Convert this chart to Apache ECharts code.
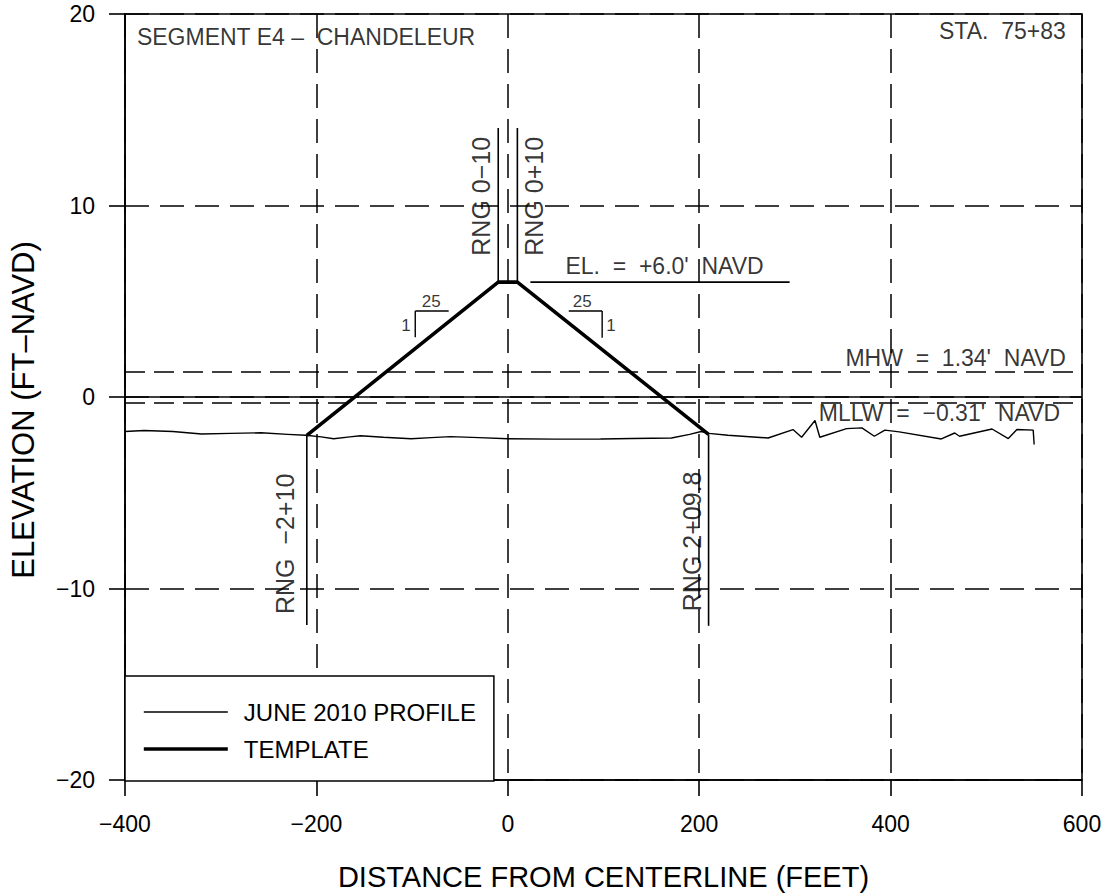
<!DOCTYPE html>
<html>
<head>
<meta charset="utf-8">
<script src="https://cdn.jsdelivr.net/npm/echarts@6/dist/echarts.min.js"></script>
<style>
html,body{margin:0;padding:0;background:#fff;}
#chart{width:1105px;height:896px;}
</style>
</head>
<body>
<div id="chart"></div>
<script>
// ---- data ----
const profileName = 'JUNE 2010 PROFILE';
const templateName = 'TEMPLATE';
const profileX = [-400,-380,-350,-320,-290,-258,-230,-211,-195,-182,-165,-154,-130,-101,-80,-60,-30,0,50,97,130,171,190,202,210,230,272,298,307,321,326,354,370,383,394,409,453,467,472,506,523,532,549,550];
const profileY = [-1.80,-1.75,-1.80,-1.93,-1.90,-1.87,-1.95,-2.00,-2.08,-2.18,-2.08,-2.02,-2.10,-2.18,-2.12,-2.07,-2.12,-2.18,-2.20,-2.19,-2.17,-2.14,-1.95,-1.80,-1.90,-2.00,-2.14,-1.70,-2.10,-1.23,-2.10,-1.65,-1.61,-2.05,-1.73,-1.82,-2.19,-1.88,-2.05,-1.67,-2.17,-1.70,-1.73,-2.48];
const templateX = [-210,-10,10,209.8];
const templateY = [-2.0,6.0,6.0,-1.95];
const mhw = 1.34;
const mllw = -0.31;
// annotation segments [x1,y1,x2,y2]
const rangeLines = [
  [-10,14.05,-10,6.05],
  [10,14.05,10,6.05],
  [-210,-2.0,-210,-11.9],
  [209.8,-1.95,209.8,-11.95]
];
const elevLine = [23.6,6.0,294.5,6.0];
const slopeMarks = [
  [-61.8,4.49,-96.7,4.49],[-96.7,4.49,-96.7,3.12],
  [63.7,4.49,98.6,4.49],[98.6,4.49,98.6,3.1]
];
// rotated labels [x, y, text]
const rangeLabels = [
  [-27.6,10.48,'RNG 0−10'],
  [27.8,10.48,'RNG 0+10'],
  [-232.6,-7.67,'RNG  −2+10'],
  [192,-7.54,'RNG 2+09.8']
];
const noteLabels = [
  [163.8,6.84,'EL.  =  +6.0\'  NAVD'],
  [468,2.06,'MHW  =  1.34\'  NAVD'],
  [451,-0.82,'MLLW  =  −0.31\'  NAVD'],
  [-210.8,18.82,'SEGMENT E4 –  CHANDELEUR'],
  [516.8,19.09,'STA.  75+83']
];
const slopeLabels = [
  [-80,5.0,'25'],[-106.4,3.72,'1'],
  [77.7,5.0,'25'],[107.8,3.72,'1']
];
const xTitle = 'DISTANCE FROM CENTERLINE (FEET)';
const yTitle = 'ELEVATION (FT–NAVD)';

// ---- chart ----
const FONT = 'Liberation Sans';
const chart = echarts.init(document.getElementById('chart'), null, {renderer:'svg'});
const fmt = v => (v < 0 ? '−' + Math.abs(v) : String(v));
const zip = (xs, ys) => xs.map((x,i)=>[x, ys[i]]);
const segSeries = (seg, w) => ({
  type:'line', data:[[seg[0],seg[1]],[seg[2],seg[3]]], symbol:'none', silent:true,
  lineStyle:{color:'#000', width:w}, z:3, animation:false
});
const labelSeries = (items, size, rotate) => ({
  type:'scatter', symbolSize:1, silent:true, animation:false, z:5,
  itemStyle:{color:'rgba(0,0,0,0)'},
  data: items.map(d=>({name:d[2], value:[d[0],d[1]]})),
  label:{show:true, position:'inside', formatter:'{b}', rotate:rotate, color:'#000',
    fontFamily:FONT, fontSize:size, align:'center', verticalAlign:'middle'}
});

const series = [
  {name:profileName, type:'line', data:zip(profileX, profileY), symbol:'none', color:'#000',
   lineStyle:{color:'#000', width:1.4}, z:4, animation:false,
   markLine:{silent:true, symbol:'none', label:{show:false}, animation:false,
     data:[
       {yAxis:0, lineStyle:{type:'solid', color:'#000', width:1.6}},
       {yAxis:mhw, lineStyle:{type:[20,9], color:'#000', width:1.5}},
       {yAxis:mllw, lineStyle:{type:[20,9], color:'#000', width:1.5}}
     ]}
  },
  {name:templateName, type:'line', data:zip(templateX, templateY), symbol:'none', color:'#000',
   lineStyle:{color:'#000', width:3.6}, z:4, animation:false}
];
rangeLines.forEach(s=>series.push(segSeries(s,1.6)));
series.push(segSeries(elevLine,1.6));
slopeMarks.forEach(s=>series.push(segSeries(s,1.4)));
series.push(labelSeries(rangeLabels, 25, 90));
series.push(labelSeries(noteLabels, 23, 0));
series.push(labelSeries(slopeLabels, 17, 0));

chart.setOption({
  backgroundColor:'#fff',
  animation:false,
  grid:{left:125, right:23, top:14, bottom:115, show:true, borderColor:'#000', borderWidth:1.6, backgroundColor:'transparent'},
  legend:{
    data:[
      {name:profileName, itemStyle:{opacity:0}, lineStyle:{width:1.4, color:'#000'}},
      {name:templateName, itemStyle:{opacity:0}, lineStyle:{width:3.6, color:'#000'}}
    ],
    orient:'vertical', left:125, top:676,
    padding:[24,18,20,17], itemWidth:84, itemHeight:20, itemGap:13,
    backgroundColor:'#fff', borderColor:'#000', borderWidth:1.5, borderRadius:0,
    textStyle:{fontFamily:FONT, fontSize:24, color:'#000', padding:[0,0,0,11]},
    selectedMode:false
  },
  xAxis:{
    type:'value', min:-400, max:600, interval:200,
    name:xTitle, nameLocation:'middle', nameGap:82,
    nameTextStyle:{fontFamily:FONT, fontSize:29, color:'#000'},
    axisLine:{show:true, onZero:false, lineStyle:{color:'#000', width:1.6}},
    axisTick:{show:true, length:16, lineStyle:{color:'#000', width:1.6}},
    axisLabel:{margin:32, color:'#000', fontFamily:FONT, fontSize:23, formatter:fmt},
    splitLine:{show:true, lineStyle:{type:[24,11], color:'#000', width:1.5}}
  },
  yAxis:{
    type:'value', min:-20, max:20, interval:10,
    name:yTitle, nameLocation:'middle', nameGap:86,
    nameTextStyle:{fontFamily:FONT, fontSize:31, color:'#000', padding:[0,26,0,0]},
    axisLine:{show:true, onZero:false, lineStyle:{color:'#000', width:1.6}},
    axisTick:{show:true, length:16, lineStyle:{color:'#000', width:1.6}},
    axisLabel:{margin:30, color:'#000', fontFamily:FONT, fontSize:23, formatter:fmt},
    splitLine:{show:true, lineStyle:{type:[24,11], color:'#000', width:1.5}}
  },
  series:series
});
</script>
</body>
</html>
